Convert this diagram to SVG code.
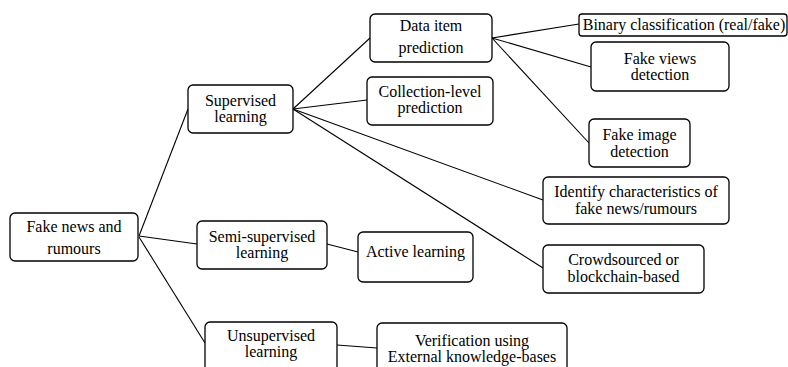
<svg xmlns="http://www.w3.org/2000/svg" width="788" height="367" viewBox="0 0 788 367">
<style>
.box{fill:#fff;stroke:#000;stroke-width:1.3}
.t{font-family:"Liberation Serif","Times New Roman",serif;font-size:16px;fill:#000;text-anchor:middle}
.c{stroke:#000;stroke-width:1.1;fill:none}
</style>
<rect width="788" height="367" fill="#fff"/>
<g id="connectors">
<line class="c" x1="139" y1="236" x2="188" y2="109"/>
<line class="c" x1="139" y1="236" x2="197" y2="244"/>
<line class="c" x1="139" y1="237" x2="205" y2="343"/>
<line class="c" x1="293" y1="109" x2="370" y2="38"/>
<line class="c" x1="293" y1="109" x2="367" y2="100"/>
<line class="c" x1="293" y1="109" x2="543" y2="200"/>
<line class="c" x1="293" y1="109" x2="543" y2="268"/>
<line class="c" x1="492" y1="38" x2="579" y2="24"/>
<line class="c" x1="492" y1="38" x2="591" y2="67"/>
<line class="c" x1="492" y1="38" x2="589" y2="143"/>
<line class="c" x1="327" y1="244" x2="358" y2="252"/>
<line class="c" x1="337" y1="345" x2="377" y2="348"/>
</g>
<g id="fake-news">
<rect class="box" x="10" y="213" width="128" height="48" rx="5"/>
<text class="t" x="74" y="232">Fake news and</text>
<text class="t" x="74" y="254">rumours</text>
</g>
<g id="supervised">
<rect class="box" x="188" y="85" width="105" height="48" rx="5"/>
<text class="t" x="240.5" y="106">Supervised</text>
<text class="t" x="240.5" y="122">learning</text>
</g>
<g id="semi-supervised">
<rect class="box" x="197" y="221" width="130" height="48" rx="5"/>
<text class="t" x="262" y="242">Semi-supervised</text>
<text class="t" x="262" y="258">learning</text>
</g>
<g id="unsupervised">
<rect class="box" x="205" y="322" width="132" height="52" rx="5"/>
<text class="t" x="271" y="341">Unsupervised</text>
<text class="t" x="271" y="357">learning</text>
</g>
<g id="data-item">
<rect class="box" x="370" y="14" width="122" height="48" rx="5"/>
<text class="t" x="431" y="31">Data item</text>
<text class="t" x="431" y="53">prediction</text>
</g>
<g id="collection-level">
<rect class="box" x="367" y="77" width="126" height="48" rx="5"/>
<text class="t" x="430" y="97">Collection-level</text>
<text class="t" x="430" y="113">prediction</text>
</g>
<g id="binary">
<rect class="box" x="579" y="14" width="208" height="22" rx="3"/>
<text class="t" x="684" y="30">Binary classification (real/fake)</text>
</g>
<g id="fake-views">
<rect class="box" x="591" y="42" width="138" height="49" rx="5"/>
<text class="t" x="660" y="64">Fake views</text>
<text class="t" x="660" y="80">detection</text>
</g>
<g id="fake-image">
<rect class="box" x="589" y="119" width="101" height="48" rx="5"/>
<text class="t" x="639.5" y="140">Fake image</text>
<text class="t" x="639.5" y="157">detection</text>
</g>
<g id="identify">
<rect class="box" x="543" y="177" width="186" height="47" rx="5"/>
<text class="t" x="636" y="197">Identify characteristics of</text>
<text class="t" x="636" y="214">fake news/rumours</text>
</g>
<g id="crowdsourced">
<rect class="box" x="543" y="245" width="161" height="48" rx="5"/>
<text class="t" x="623.5" y="265">Crowdsourced or</text>
<text class="t" x="623.5" y="282">blockchain-based</text>
</g>
<g id="active">
<rect class="box" x="358" y="232" width="115" height="50" rx="5"/>
<text class="t" x="415.5" y="257">Active learning</text>
</g>
<g id="verification">
<rect class="box" x="377" y="323" width="190" height="52" rx="5"/>
<text class="t" x="472" y="346">Verification using</text>
<text class="t" x="472" y="362">External knowledge-bases</text>
</g>
</svg>
